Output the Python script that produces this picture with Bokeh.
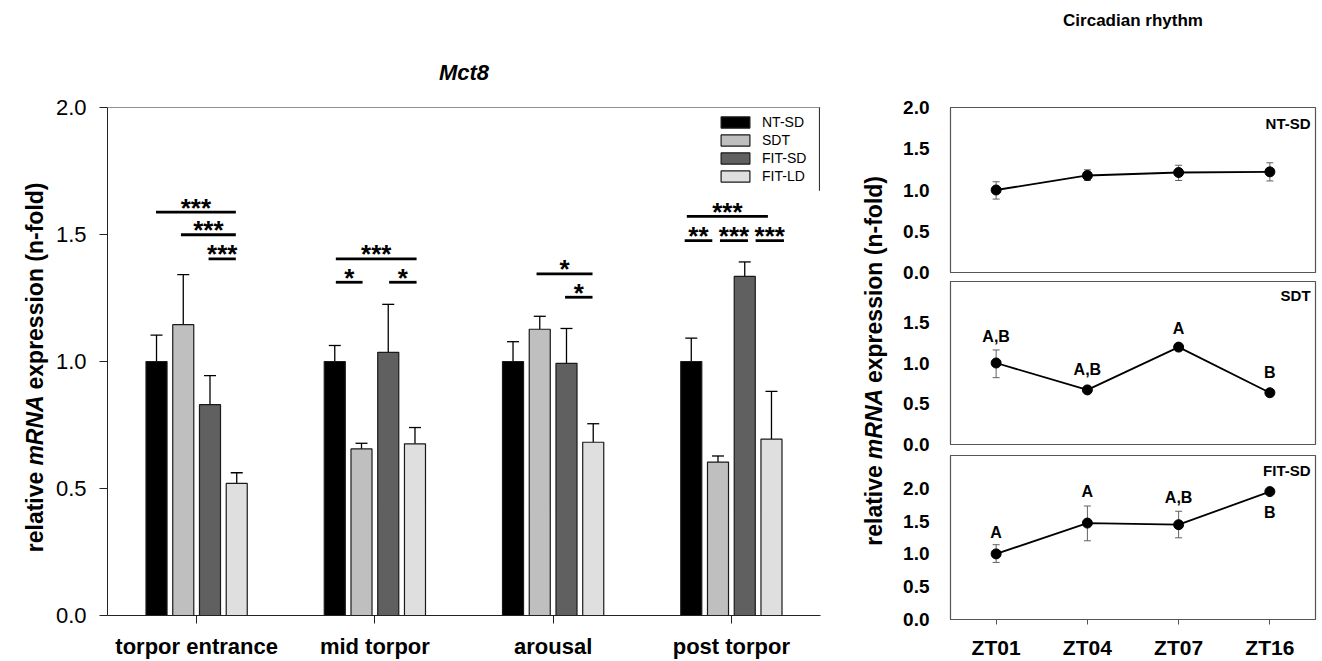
import numpy as np
from bokeh.plotting import figure
from bokeh.models import (ColumnDataSource, Range1d, FixedTicker, Whisker, TeeHead,
                          Label, Legend, LegendItem, Span, PrintfTickFormatter, Title)
from bokeh.layouts import row, column
from bokeh.embed import file_html
from bokeh.resources import INLINE
from bokeh.core.properties import value

FONT = "Liberation Sans"

# ---------------- data: left panel ----------------
categories = ["torpor entrance", "mid torpor", "arousal", "post torpor"]
groups = ["NT-SD", "SDT", "FIT-SD", "FIT-LD"]
nt_sd = [1.000, 1.000, 1.000, 1.000]
nt_sd_err = [1.104, 1.063, 1.078, 1.092]
sdt = [1.145, 0.656, 1.127, 0.604]
sdt_err = [1.342, 0.678, 1.178, 0.628]
fit_sd = [0.830, 1.036, 0.993, 1.335]
fit_sd_err = [0.944, 1.225, 1.130, 1.392]
fit_ld = [0.520, 0.676, 0.682, 0.694]
fit_ld_err = [0.562, 0.740, 0.755, 0.882]
y_ticks_left = [0.0, 0.5, 1.0, 1.5, 2.0]

# significance brackets: group, start offset, end offset, height, label
sig_group = [0, 0, 0, 1, 1, 1, 2, 2, 3, 3, 3, 3]
sig_start = [-0.228, -0.088, 0.067, -0.219, -0.219, 0.080, -0.093, 0.067, -0.250, -0.262, -0.064, 0.136]
sig_end = [0.220, 0.220, 0.220, 0.234, -0.069, 0.234, 0.221, 0.221, 0.205, -0.107, 0.093, 0.295]
sig_height = [1.588, 1.499, 1.404, 1.404, 1.312, 1.312, 1.345, 1.253, 1.571, 1.476, 1.476, 1.476]
sig_label = ["***", "***", "***", "***", "*", "*", "*", "*", "***", "**", "***", "***"]

# ---------------- data: right panels ----------------
zt_labels = ["ZT01", "ZT04", "ZT07", "ZT16"]
nt_mean = [1.000, 1.176, 1.212, 1.220]
nt_lo = [0.890, 1.115, 1.115, 1.110]
nt_hi = [1.100, 1.245, 1.300, 1.330]
sdt_mean = [1.000, 0.670, 1.195, 0.635]
sdt_lo = [0.820, 0.650, 1.170, 0.615]
sdt_hi = [1.160, 0.690, 1.225, 0.655]
fit_mean = [1.000, 1.470, 1.445, 1.950]
fit_lo = [0.870, 1.200, 1.245, 1.910]
fit_hi = [1.140, 1.730, 1.650, 1.990]
sdt_letters = ["A,B", "A,B", "A", "B"]
sdt_letter_y = [1.330, 0.921, 1.425, 0.888]
fit_letters = ["A", "A", "A,B", "B"]
fit_letter_y = [1.319, 1.953, 1.853, 1.636]

H = 661
TOP, BOT = 107, 44

# ---------------- left bar chart ----------------
pL = figure(width=800, height=H, x_range=Range1d(-0.5, 3.5), y_range=Range1d(0, 2),
            output_backend="svg", toolbar_location=None,
            min_border_left=57, min_border_right=30, min_border_top=TOP, min_border_bottom=BOT)
pL.grid.visible = False
pL.outline_line_color = None

idx = np.arange(len(categories))
offsets = [-0.225, -0.075, 0.075, 0.225]
colors = ["#000000", "#bfbfbf", "#606060", "#dfdfdf"]
series = [nt_sd, sdt, fit_sd, fit_ld]
errs = [nt_sd_err, sdt_err, fit_sd_err, fit_ld_err]
items = []
for g, vals, ers, off, col in zip(groups, series, errs, offsets, colors):
    src = ColumnDataSource(dict(x=idx + off, top=vals, err=ers))
    r = pL.vbar(x="x", top="top", bottom=0, width=0.118, source=src,
                fill_color=col, line_color="#1a1a1a", line_width=1.2)
    pL.add_layout(Whisker(base="x", lower="top", upper="err", source=src,
                          line_color="black", line_width=1.3,
                          upper_head=TeeHead(size=12, line_color="black", line_width=1.3),
                          lower_head=None))
    items.append(LegendItem(label=g, renderers=[r]))

legend = Legend(items=items, location="top_right", margin=7, padding=0, spacing=2,
                glyph_width=36, glyph_height=14, label_height=14, label_standoff=9,
                label_width=51,
                label_text_font=FONT, label_text_font_size="14px", label_text_color="black",
                border_line_color=None, background_fill_alpha=0)
pL.add_layout(legend)

sg = np.array(sig_group, dtype=float)
s_src = ColumnDataSource(dict(
    x0=sg + np.array(sig_start), x1=sg + np.array(sig_end),
    y=sig_height, xm=sg + (np.array(sig_start) + np.array(sig_end)) / 2,
    yt=np.array(sig_height) + 4.5 / 255, label=sig_label))
pL.segment(x0="x0", y0="y", x1="x1", y1="y", source=s_src, line_color="black", line_width=2.8)
pL.text(x="xm", y="yt", text="label", source=s_src, text_font=value(FONT),
        text_font_style="bold", text_font_size="26px", text_align="center",
        text_baseline="middle", text_color="black")

# frame top line and legend right edge
pL.add_layout(Span(location=2.0, dimension="width", line_color="#222222", line_width=1))
pL.segment(x0=[3.494], y0=[2.0], x1=[3.494], y1=[1.672], line_color="#222222", line_width=1)

pL.xaxis.ticker = FixedTicker(ticks=list(range(len(categories))))
pL.xaxis.major_label_overrides = {i: c for i, c in enumerate(categories)}
pL.xaxis.major_label_text_font = FONT
pL.xaxis.major_label_text_font_style = "bold"
pL.xaxis.major_label_text_font_size = "22px"
pL.xaxis.major_label_text_color = "black"
pL.xaxis.major_label_standoff = 10
pL.yaxis.ticker = FixedTicker(ticks=y_ticks_left)
pL.yaxis.formatter = PrintfTickFormatter(format="%.1f")
pL.yaxis.major_label_text_font = FONT
pL.yaxis.major_label_text_font_size = "22px"
pL.yaxis.major_label_text_color = "black"
pL.yaxis.major_label_standoff = 13
for ax in (pL.xaxis, pL.yaxis):
    ax.major_tick_out = 8
    ax.major_tick_in = 0
    ax.minor_tick_line_color = None
    ax.axis_line_color = "#222222"
    ax.major_tick_line_color = "#222222"

pL.add_layout(Title(text="Mct8", align="center", text_font=FONT, text_font_style="bold italic",
                    text_font_size="22px", text_color="black", standoff=46), "above")

# ---------------- rotated y-axis titles (italic "mRNA") ----------------
W = {' ': .278, '(': .333, ')': .333, '-': .333, 'a': .556, 'd': .611, 'e': .556, 'f': .333,
     'i': .278, 'l': .278, 'n': .611, 'o': .611, 'p': .611, 'r': .389, 's': .556, 't': .333,
     'v': .556, 'x': .556, 'm': .889, 'R': .722, 'N': .722, 'A': .722}
pieces = ["relative", "mRNA", "expression (n-fold)"]
styles = ["bold", "bold italic", "bold"]
FS = 23


def width(s):
    return sum(W[c] for c in s) * FS


def label_strip(xc, center_page_y, w):
    # frame is aligned with the bar chart's frame (page y 107..617)
    p = figure(width=w, height=H, x_range=Range1d(0, w), y_range=Range1d(BOT, H - TOP),
               output_backend="svg", toolbar_location=None, x_axis_location=None,
               y_axis_location=None, min_border_left=0, min_border_right=0,
               min_border_top=TOP, min_border_bottom=BOT)
    p.grid.visible = False
    p.outline_line_color = None
    total = sum(width(s) for s in pieces) + 2 * W[' '] * FS
    y = center_page_y + total / 2
    for s, st in zip(pieces, styles):
        mid = y - width(s) / 2
        p.text(x=[xc], y=[H - mid], text=[s], angle=np.pi / 2, text_font=value(FONT),
               text_font_style=st, text_font_size=f"{FS}px", text_align="center",
               text_baseline="middle", text_color="black")
        y -= width(s) + W[' '] * FS
    return p


yl1 = label_strip(34.5, 368, 50)
yl2 = label_strip(23, 361.5, 50)

# ---------------- right panels ----------------
RW = 418
header = figure(width=RW, height=50, x_range=Range1d(-0.5, 3.5), y_range=Range1d(0, 50),
                output_backend="svg", toolbar_location=None, x_axis_location=None,
                y_axis_location=None, min_border_left=45, min_border_right=3,
                min_border_top=0, min_border_bottom=0)
header.grid.visible = False
header.outline_line_color = None
header.text(x=[1.5], y=[30], text=["Circadian rhythm"], text_font=value(FONT),
            text_font_style="bold", text_font_size="17px", text_align="center",
            text_baseline="middle", text_color="black")


def panel(ymax, ticks, top, frame_h, bottom, xaxis):
    p = figure(width=RW, height=top + frame_h + bottom, x_range=Range1d(-0.5, 3.5),
               y_range=Range1d(0, ymax), output_backend="svg", toolbar_location=None,
               min_border_left=45, min_border_right=3, min_border_top=top,
               min_border_bottom=bottom, x_axis_location="below" if xaxis else None)
    p.grid.visible = False
    p.outline_line_color = "#555555"
    p.outline_line_width = 1.2
    p.yaxis.ticker = FixedTicker(ticks=ticks)
    p.yaxis.formatter = PrintfTickFormatter(format="%.1f")
    p.yaxis.major_tick_line_color = None
    p.yaxis.minor_tick_line_color = None
    p.yaxis.axis_line_color = "#555555"
    p.yaxis.major_label_text_font = FONT
    p.yaxis.major_label_text_font_style = "bold"
    p.yaxis.major_label_text_font_size = "19px"
    p.yaxis.major_label_text_color = "black"
    p.yaxis.major_label_standoff = 15
    if xaxis:
        p.xaxis.ticker = FixedTicker(ticks=[0, 1, 2, 3])
        p.xaxis.major_label_overrides = {i: z for i, z in enumerate(zt_labels)}
        p.xaxis.major_tick_out = 5
        p.xaxis.major_tick_in = 0
        p.xaxis.minor_tick_line_color = None
        p.xaxis.axis_line_color = "#555555"
        p.xaxis.major_tick_line_color = "#555555"
        p.xaxis.major_label_text_font = FONT
        p.xaxis.major_label_text_font_style = "bold"
        p.xaxis.major_label_text_font_size = "21px"
        p.xaxis.major_label_text_color = "black"
        p.xaxis.major_label_standoff = 11
    return p


def draw_series(p, mean, lo, hi):
    src = ColumnDataSource(dict(x=list(range(4)), y=mean, lo=lo, hi=hi))
    p.add_layout(Whisker(base="x", lower="lo", upper="hi", source=src,
                         line_color="#606060", line_width=1,
                         upper_head=TeeHead(size=7, line_color="#606060", line_width=1),
                         lower_head=TeeHead(size=7, line_color="#606060", line_width=1)))
    p.line("x", "y", source=src, line_color="black", line_width=1.8)
    p.scatter("x", "y", source=src, size=10, fill_color="black", line_color="black")


def tag(p, text, ydata):
    p.add_layout(Label(x=3.446, y=ydata, text=text, text_font=FONT, text_font_style="bold",
                       text_font_size="15px", text_align="right", text_baseline="middle",
                       text_color="black"))


def letters(p, labs, ys):
    src = ColumnDataSource(dict(x=list(range(4)), y=ys, t=labs))
    p.text(x="x", y="y", text="t", source=src, text_font=value(FONT), text_font_style="bold",
           text_font_size="16px", text_align="center", text_baseline="middle",
           text_color="black")


p1 = panel(2.0, [0.0, 0.5, 1.0, 1.5, 2.0], 57, 165, 8, False)
draw_series(p1, nt_mean, nt_lo, nt_hi)
tag(p1, "NT-SD", 1.812)

p2 = panel(2.0, [0.0, 0.5, 1.0, 1.5], 1, 163, 8, False)
draw_series(p2, sdt_mean, sdt_lo, sdt_hi)
tag(p2, "SDT", 1.83)
letters(p2, sdt_letters, sdt_letter_y)

p3 = panel(2.5, [0.0, 0.5, 1.0, 1.5, 2.0], 3, 165, 41, True)
draw_series(p3, fit_mean, fit_lo, fit_hi)
tag(p3, "FIT-SD", 2.266)
letters(p3, fit_letters, fit_letter_y)

layout = row(yl1, pL, yl2, column(header, p1, p2, p3))
open("out.html", "w").write(file_html(layout, INLINE))
